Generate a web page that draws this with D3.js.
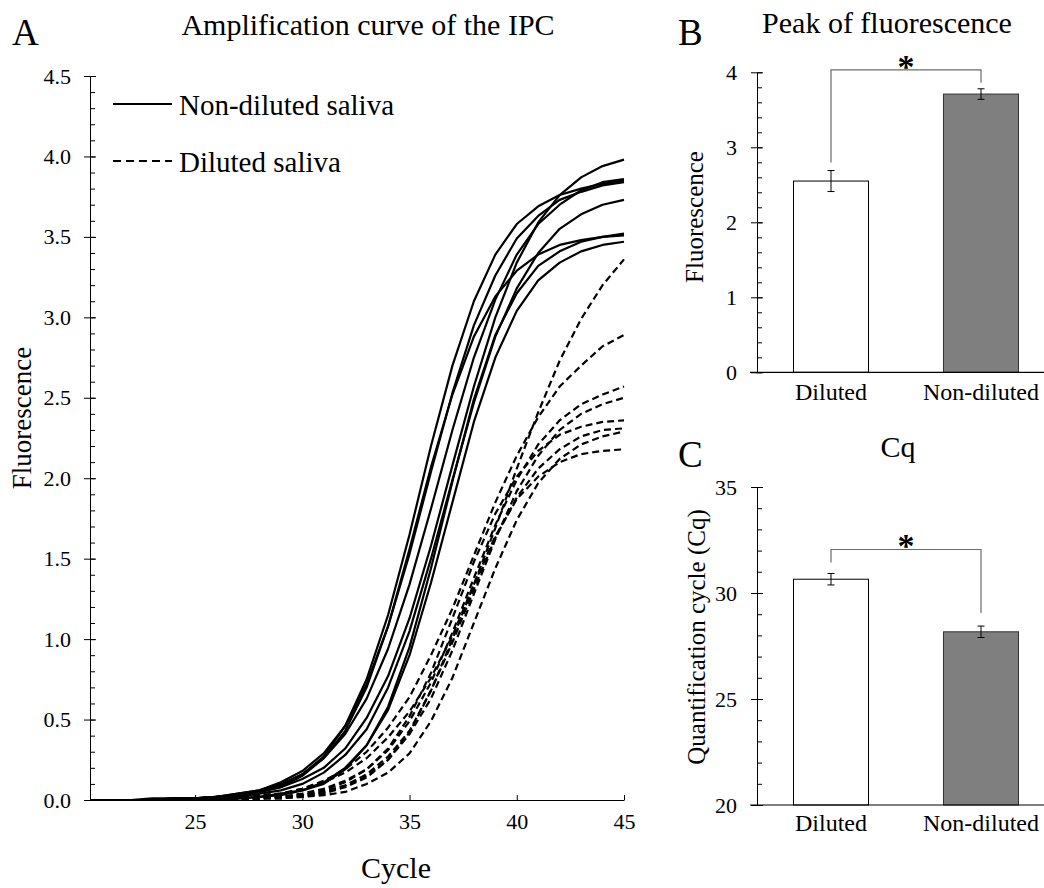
<!DOCTYPE html>
<html>
<head>
<meta charset="utf-8">
<script src="https://cdn.jsdelivr.net/npm/d3@7"></script>
<style>
  body { margin: 0; background: #fff; }
  svg text { font-family: "Liberation Serif", "Times New Roman", serif; fill: #000; }
</style>
</head>
<body>
<div id="chart"></div>
<script>
// cycles shown on panel A
const cycles = [20, 21, 22, 23, 24, 25, 26, 27, 28, 29, 30, 31, 32, 33, 34, 35, 36, 37, 38, 39, 40, 41, 42, 43, 44, 45];

// non-diluted saliva (solid)
const nd1 = [0, 0, 0, 0, 0.01, 0.01, 0.02, 0.03, 0.05, 0.09, 0.16, 0.27, 0.46, 0.75, 1.15, 1.65, 2.20, 2.70, 3.10, 3.39, 3.58, 3.69, 3.76, 3.80, 3.83, 3.85];
const nd2 = [0, 0, 0, 0, 0, 0.01, 0.02, 0.03, 0.05, 0.08, 0.15, 0.26, 0.43, 0.70, 1.08, 1.56, 2.07, 2.52, 2.88, 3.13, 3.29, 3.39, 3.45, 3.48, 3.50, 3.52];
const nd3 = [0, 0, 0, 0, 0.01, 0.01, 0.02, 0.03, 0.05, 0.08, 0.13, 0.20, 0.32, 0.51, 0.77, 1.13, 1.58, 2.08, 2.57, 3.00, 3.34, 3.59, 3.76, 3.87, 3.94, 3.98];
const nd4 = [0, 0, 0, 0, 0.01, 0.01, 0.02, 0.04, 0.06, 0.11, 0.18, 0.29, 0.46, 0.72, 1.08, 1.53, 2.04, 2.53, 2.95, 3.26, 3.49, 3.63, 3.73, 3.78, 3.82, 3.84];
const nd5 = [0, 0, 0, 0.01, 0.01, 0.01, 0.02, 0.04, 0.06, 0.10, 0.16, 0.26, 0.41, 0.63, 0.94, 1.34, 1.81, 2.30, 2.75, 3.11, 3.39, 3.58, 3.70, 3.79, 3.84, 3.86];
const nd6 = [0, 0, 0, 0, 0, 0.01, 0.01, 0.02, 0.04, 0.06, 0.10, 0.17, 0.28, 0.44, 0.70, 1.05, 1.50, 1.99, 2.47, 2.88, 3.18, 3.40, 3.55, 3.64, 3.70, 3.73];
const nd7 = [0, 0, 0, 0, 0, 0, 0, 0.01, 0.02, 0.03, 0.06, 0.10, 0.19, 0.34, 0.58, 0.95, 1.44, 1.98, 2.49, 2.89, 3.15, 3.32, 3.41, 3.47, 3.50, 3.51];
const nd8 = [0, 0, 0, 0, 0, 0, 0.01, 0.01, 0.02, 0.04, 0.06, 0.11, 0.20, 0.34, 0.56, 0.90, 1.35, 1.85, 2.35, 2.75, 3.04, 3.23, 3.34, 3.41, 3.45, 3.47];

// diluted saliva (dashed)
const dl1 = [0, 0, 0, 0, 0, 0.01, 0.01, 0.02, 0.03, 0.04, 0.07, 0.11, 0.17, 0.26, 0.39, 0.55, 0.76, 1.02, 1.34, 1.69, 2.06, 2.41, 2.73, 2.99, 3.20, 3.36];
const dl2 = [0, 0, 0, 0, 0, 0.01, 0.01, 0.02, 0.03, 0.04, 0.07, 0.12, 0.19, 0.30, 0.45, 0.64, 0.90, 1.19, 1.52, 1.85, 2.14, 2.38, 2.57, 2.70, 2.82, 2.89];
const dl3 = [0, 0, 0, 0, 0, 0, 0, 0.01, 0.01, 0.02, 0.04, 0.07, 0.12, 0.19, 0.31, 0.49, 0.73, 1.04, 1.38, 1.71, 1.99, 2.21, 2.36, 2.46, 2.52, 2.57];
const dl4 = [0, 0, 0, 0, 0, 0, 0, 0.01, 0.01, 0.02, 0.03, 0.05, 0.09, 0.15, 0.25, 0.41, 0.63, 0.93, 1.28, 1.62, 1.92, 2.14, 2.30, 2.40, 2.46, 2.50];
const dl5 = [0, 0, 0, 0, 0, 0, 0, 0.01, 0.01, 0.02, 0.03, 0.06, 0.11, 0.19, 0.32, 0.52, 0.79, 1.13, 1.48, 1.78, 2.01, 2.17, 2.27, 2.32, 2.35, 2.36];
const dl6 = [0, 0, 0, 0, 0, 0, 0, 0, 0.01, 0.02, 0.03, 0.05, 0.09, 0.16, 0.27, 0.43, 0.68, 0.98, 1.31, 1.63, 1.88, 2.06, 2.18, 2.26, 2.30, 2.31];
const dl7 = [0, 0, 0, 0, 0, 0, 0, 0, 0.01, 0.01, 0.02, 0.03, 0.05, 0.10, 0.17, 0.29, 0.49, 0.76, 1.10, 1.44, 1.74, 1.97, 2.12, 2.21, 2.26, 2.29];
const dl8 = [0, 0, 0, 0, 0, 0, 0, 0, 0.01, 0.01, 0.02, 0.04, 0.08, 0.14, 0.25, 0.42, 0.68, 1.00, 1.34, 1.64, 1.87, 2.01, 2.10, 2.15, 2.17, 2.18];

const xTicksA = [25, 30, 35, 40, 45];
const yTicksA = [0, 0.5, 1, 1.5, 2, 2.5, 3, 3.5, 4, 4.5];

// panels B and C
const groups = ["Diluted", "Non-diluted"];
const peakMean = [2.55, 3.71];
const peakErr = [0.14, 0.07];
const cqMean = [30.65, 28.17];
const cqErr = [0.27, 0.27];
const yTicksB = [0, 1, 2, 3, 4];
const yTicksC = [20, 25, 30, 35];

const W = 1044, H = 888;
const svg = d3.select("#chart").append("svg")
  .attr("width", W).attr("height", H)
  .style("background", "#fff");

// ---------- Panel A ----------
const x = d3.scaleLinear().domain([20.1, 45]).range([90, 624]);
const y = d3.scaleLinear().domain([0, 4.5]).range([800, 76]);

svg.append("defs").append("clipPath").attr("id", "clipA")
  .append("rect").attr("x", 90).attr("y", 60).attr("width", 540).attr("height", 745);

const line = d3.line().x((d, i) => x(cycles[i])).y(d => y(d));

const plotA = svg.append("g").attr("clip-path", "url(#clipA)");
[dl1, dl2, dl3, dl4, dl5, dl6, dl7, dl8].forEach(s => {
  plotA.append("path").attr("d", line(s))
    .attr("fill", "none").attr("stroke", "#000")
    .attr("stroke-width", 2.2).attr("stroke-dasharray", "7,4");
});
[nd1, nd2, nd3, nd4, nd5, nd6, nd7, nd8].forEach(s => {
  plotA.append("path").attr("d", line(s))
    .attr("fill", "none").attr("stroke", "#000")
    .attr("stroke-width", 2.2).attr("stroke-linejoin", "round");
});

// y axis A
svg.append("g").attr("transform", "translate(90,0)")
  .call(d3.axisLeft(y).tickValues(d3.range(0, 4.51, 0.1)).tickSizeInner(-5).tickSizeOuter(0).tickFormat(""))
  .call(g => g.select(".domain").remove());
const yAxA = svg.append("g").attr("transform", "translate(90,0)")
  .call(d3.axisLeft(y).tickValues(yTicksA).tickSizeOuter(0).tickFormat(d3.format(".1f")));
yAxA.selectAll(".tick line").attr("x1", -6).attr("x2", 6);
yAxA.selectAll(".tick text").attr("x", -19).attr("font-size", 22);

// x axis A
const xAxA = svg.append("g").attr("transform", "translate(0,800)")
  .call(d3.axisBottom(x).tickValues(xTicksA).tickSizeInner(-5).tickSizeOuter(0));
xAxA.selectAll(".tick text").attr("y", 29).attr("dy", 0).attr("font-size", 22);
svg.selectAll(".domain, .tick line").attr("stroke", "#000");
svg.selectAll("g").attr("font-family", null);

// legend
svg.append("line").attr("x1", 113).attr("x2", 172).attr("y1", 104).attr("y2", 104)
  .attr("stroke", "#000").attr("stroke-width", 2.2);
svg.append("text").attr("x", 179).attr("y", 115).attr("font-size", 29).text("Non-diluted saliva");
svg.append("line").attr("x1", 113).attr("x2", 172).attr("y1", 161).attr("y2", 161)
  .attr("stroke", "#000").attr("stroke-width", 2.2).attr("stroke-dasharray", "8,5");
svg.append("text").attr("x", 179).attr("y", 172).attr("font-size", 29).text("Diluted saliva");

svg.append("text").attr("x", 12).attr("y", 45).attr("font-size", 37).text("A");
svg.append("text").attr("x", 368).attr("y", 35).attr("text-anchor", "middle")
  .attr("font-size", 30).text("Amplification curve of the IPC");
svg.append("text").attr("x", 396).attr("y", 878).attr("text-anchor", "middle")
  .attr("font-size", 30).text("Cycle");
svg.append("text").attr("transform", "translate(22,418) rotate(-90)")
  .attr("text-anchor", "middle").attr("dy", "0.35em")
  .attr("font-size", 27).text("Fluorescence");

// ---------- Bar panels ----------
const xb = d3.scaleBand().domain(groups).range([756, 1056]).paddingInner(0.5).paddingOuter(0.25);

function barPanel(opt) {
  const ys = d3.scaleLinear().domain(opt.domain).range(opt.range);
  const ax = 757;
  // minor ticks (inside)
  svg.append("g").attr("transform", `translate(${ax},0)`)
    .call(d3.axisLeft(ys).tickValues(opt.minor).tickSizeInner(-5).tickSizeOuter(0).tickFormat(""))
    .call(g => g.select(".domain").remove())
    .selectAll("line").attr("stroke", "#000");
  const g = svg.append("g").attr("transform", `translate(${ax},0)`)
    .call(d3.axisLeft(ys).tickValues(opt.ticks).tickSizeOuter(0).tickFormat(d3.format("d")))
    .attr("font-family", null);
  g.selectAll(".tick line").attr("x1", -6).attr("x2", 6).attr("stroke", "#000");
  g.select(".domain").attr("stroke", "#000");
  g.selectAll(".tick text").attr("x", -20).attr("font-size", 22);

  // bars
  groups.forEach((grp, i) => {
    svg.append("rect")
      .attr("x", xb(grp)).attr("width", xb.bandwidth())
      .attr("y", ys(opt.mean[i])).attr("height", ys(opt.domain[0]) - ys(opt.mean[i]))
      .attr("fill", i === 0 ? "#fff" : "#7f7f7f")
      .attr("stroke", i === 0 ? "#000" : "#333").attr("stroke-width", 1);
  });
  // x axis line
  svg.append("line").attr("x1", 750).attr("x2", 1056)
    .attr("y1", ys(opt.domain[0])).attr("y2", ys(opt.domain[0]))
    .attr("stroke", "#000").attr("stroke-width", 1.2);
  // error bars
  groups.forEach((grp, i) => {
    const cx = xb(grp) + xb.bandwidth() / 2;
    const lo = ys(opt.mean[i] - opt.err[i]), hi = ys(opt.mean[i] + opt.err[i]);
    const eb = svg.append("g").attr("stroke", "#000").attr("stroke-width", 1);
    eb.append("line").attr("x1", cx).attr("x2", cx).attr("y1", lo).attr("y2", hi);
    eb.append("line").attr("x1", cx - 3.5).attr("x2", cx + 3.5).attr("y1", lo).attr("y2", lo);
    eb.append("line").attr("x1", cx - 3.5).attr("x2", cx + 3.5).attr("y1", hi).attr("y2", hi);
  });
  // category labels
  groups.forEach(grp => {
    svg.append("text").attr("x", xb(grp) + xb.bandwidth() / 2)
      .attr("y", ys(opt.domain[0]) + opt.catOff).attr("text-anchor", "middle")
      .attr("font-size", 24).text(grp);
  });
  // significance bracket
  const c0 = xb(groups[0]) + xb.bandwidth() / 2, c1 = xb(groups[1]) + xb.bandwidth() / 2;
  const t0 = ys(opt.mean[0] + opt.err[0]), t1 = ys(opt.mean[1] + opt.err[1]);
  const top = Math.min(t0, t1) - opt.bracket;
  svg.append("path")
    .attr("d", `M${c0},${t0 - opt.gaps[0]}V${top}H${c1}V${t1 - opt.gaps[1]}`)
    .attr("fill", "none").attr("stroke", "#6b6b6b").attr("stroke-width", 1.2);
  svg.append("text").attr("x", (c0 + c1) / 2).attr("y", top + 8)
    .attr("text-anchor", "middle").attr("font-size", 34).attr("font-weight", "bold").text("*");

  svg.append("text").attr("x", 678).attr("y", opt.letterY).attr("font-size", 37).text(opt.letter);
  svg.append("text").attr("x", opt.titleX).attr("y", opt.titleY).attr("text-anchor", "middle")
    .attr("font-size", 30).text(opt.title);
  svg.append("text").attr("transform", `translate(${opt.labX},${opt.labY}) rotate(-90)`)
    .attr("text-anchor", "middle").attr("dy", "0.35em")
    .attr("font-size", 25).text(opt.ylabel);
}

barPanel({
  domain: [0, 4], range: [372.3, 72.3], ticks: yTicksB, minor: d3.range(0, 4.01, 0.2),
  mean: peakMean, err: peakErr, catOff: 28, bracket: 19, gaps: [8, 6],
  letter: "B", letterY: 45, title: "Peak of fluorescence", titleX: 887, titleY: 33,
  ylabel: "Fluorescence", labX: 694, labY: 217
});

barPanel({
  domain: [20, 35], range: [805, 487], ticks: yTicksC, minor: d3.range(20, 35.01, 1),
  mean: cqMean, err: cqErr, catOff: 26, bracket: 24, gaps: [11, 13],
  letter: "C", letterY: 467, title: "Cq", titleX: 898, titleY: 457,
  ylabel: "Quantification cycle (Cq)", labX: 696, labY: 637
});
</script>
</body>
</html>
